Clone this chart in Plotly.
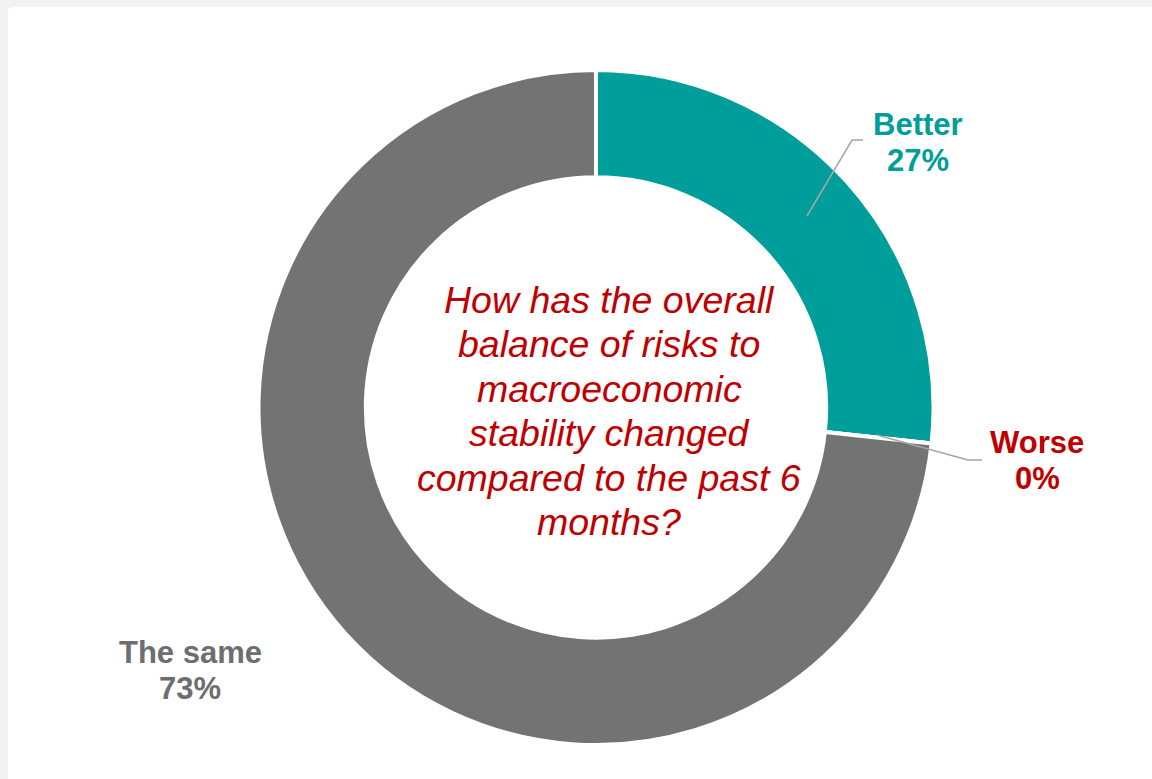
import plotly.graph_objects as go

W, H = 1152, 779

categories = ["Better", "Worse", "The same"]
values = [26.7, 0, 73.3]
shown_pct = ["27%", "0%", "73%"]
colors = ["#009E9A", "#C00000", "#737373"]
label_colors = ["#009E9A", "#C00000", "#6D6E71"]
question_lines = [
    "How has the overall",
    "balance of risks to",
    "macroeconomic",
    "stability changed",
    "compared to the past 6",
    "months?",
]

def px(x):
    return x / W

def py(y):
    return 1 - y / H

cx, cy, R = 596, 407.5, 337.5

fig = go.Figure()
fig.add_trace(go.Pie(
    labels=categories,
    values=values,
    sort=False,
    direction="clockwise",
    rotation=0,
    hole=0.682,
    textinfo="none",
    hoverinfo="label+percent",
    marker=dict(colors=colors, line=dict(color="white", width=4)),
    domain=dict(x=[px(cx - R), px(cx + R)], y=[py(cy + R), py(cy - R)]),
    showlegend=False,
))

annotations = []
# centre question
y0, dy = 300, 44.4
for i, line in enumerate(question_lines):
    annotations.append(dict(
        x=px(609), y=py(y0 + i * dy), xref="paper", yref="paper",
        text=f"<i>{line}</i>", showarrow=False, xanchor="center", yanchor="middle",
        font=dict(family="Liberation Sans, Arial, sans-serif", size=37.5, color="#C00000"),
    ))

# slice labels
label_pos = {"Better": (918, 124), "Worse": (1037, 443), "The same": (190, 652)}
for cat, pct, col in zip(categories, shown_pct, label_colors):
    lx, ly = label_pos[cat]
    for j, t in enumerate([cat, pct]):
        annotations.append(dict(
            x=px(lx), y=py(ly + j * 36), xref="paper", yref="paper",
            text=f"<b>{t}</b>", showarrow=False, xanchor="center", yanchor="middle",
            font=dict(family="Liberation Sans, Arial, sans-serif", size=31, color=col),
        ))

def path_px(points):
    return "M " + " L ".join(f"{px(x)},{py(y)}" for x, y in points)

r = 5
card = (f"M {px(8)},{py(-20)} L {px(8)},{py(7 + r)} Q {px(8)},{py(7)} {px(8 + r)},{py(7)} "
        f"L {px(1170)},{py(7)} L {px(1170)},{py(800)} L {px(8)},{py(800)} Z")

shapes = [
    dict(type="path", path=card, xref="paper", yref="paper", fillcolor="white",
         line=dict(width=0), layer="below"),
    dict(type="path", path=path_px([(807, 216), (852, 140), (863, 140)]), xref="paper", yref="paper",
         line=dict(color="#A6A6A6", width=1.5), layer="above"),
    dict(type="path", path=path_px([(877, 435), (968, 460), (982, 460)]), xref="paper", yref="paper",
         line=dict(color="#A6A6A6", width=1.5), layer="above"),
]

fig.update_layout(
    width=W, height=H,
    margin=dict(l=0, r=0, t=0, b=0),
    paper_bgcolor="#F2F2F2",
    plot_bgcolor="white",
    annotations=annotations,
    shapes=shapes,
)

fig.write_html("out.html")
